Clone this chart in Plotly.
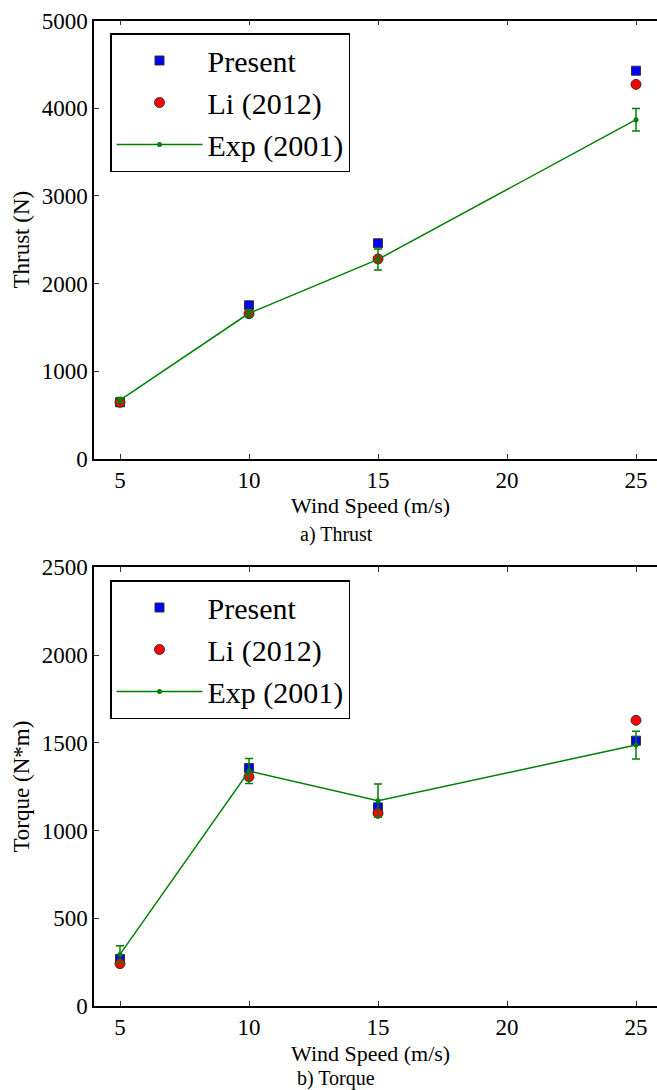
import plotly.graph_objects as go
from plotly.subplots import make_subplots

wind = [5, 10, 15, 25]

thrust_present = [644, 1751, 2459, 4429]
thrust_li = [644, 1655, 2280, 4273]
thrust_exp = [670, 1660, 2275, 3870]
thrust_exp_err = [30, 40, 120, 128]

torque_present = [268, 1356, 1132, 1512]
torque_li = [241, 1307, 1098, 1628]
torque_exp = [294, 1339, 1170, 1487]
torque_exp_err = [50, 71, 95, 79]

x_ticks = [5, 10, 15, 20, 25]
thrust_ticks = [0, 1000, 2000, 3000, 4000, 5000]
torque_ticks = [0, 500, 1000, 1500, 2000, 2500]

W, H = 657, 1090
FONT = "Liberation Serif"
BLUE, RED, GREEN = "#0000ff", "#ff0000", "#008000"

fig = make_subplots(rows=2, cols=1)

def add_series(row, present, li, exp, err, legend):
    fig.add_trace(go.Scatter(x=wind, y=present, mode="markers", name="Present",
                             marker=dict(symbol="square", size=9, color=BLUE,
                                         line=dict(color="#333333", width=1)),
                             legend=legend), row=row, col=1)
    fig.add_trace(go.Scatter(x=wind, y=li, mode="markers", name="Li (2012)",
                             marker=dict(symbol="circle", size=10, color=RED,
                                         line=dict(color="#333333", width=1)),
                             legend=legend), row=row, col=1)
    fig.add_trace(go.Scatter(x=wind, y=exp, mode="lines+markers", name="Exp (2001)",
                             line=dict(color=GREEN, width=1.5),
                             marker=dict(symbol="circle", size=5, color=GREEN),
                             error_y=dict(type="data", array=err, color=GREEN,
                                          thickness=1.5, width=4),
                             legend=legend), row=row, col=1)

add_series(1, thrust_present, thrust_li, thrust_exp, thrust_exp_err, "legend")
add_series(2, torque_present, torque_li, torque_exp, torque_exp_err, "legend2")

x_left = 94.2 / W
top1 = (H - 20.7) / H
bot1 = (H - 458.7) / H
top2 = (H - 567.3) / H
bot2 = (H - 1006) / H

axis_common = dict(showgrid=False, zeroline=False, showline=True, linecolor="black",
                   linewidth=1.5, ticks="inside", ticklen=5, tickcolor="#333333",
                   tickwidth=1, automargin=False,
                   tickfont=dict(family=FONT, size=23, color="black"))

TITLE_FONT = dict(family=FONT, size=23, color="black")
xr = [4, 4 + (W - 94.2) / 25.8]
for i, (bot, top) in enumerate([(bot1, top1), (bot2, top2)], start=1):
    fig.update_xaxes(range=xr, domain=[x_left, 1], tickvals=x_ticks, mirror="ticks",
                     row=i, col=1, **axis_common)
    fig.update_yaxes(domain=[bot, top], row=i, col=1, **axis_common)

fig.update_yaxes(range=[0, 5000], tickvals=thrust_ticks,
                 title=dict(text="Thrust (N)", font=TITLE_FONT, standoff=6),
                 row=1, col=1)
fig.update_yaxes(range=[0, 2500], tickvals=torque_ticks,
                 title=dict(text="Torque (N*m)", font=TITLE_FONT, standoff=6),
                 row=2, col=1)

def ann(text, xpx, ypx, size):
    return dict(text=text, x=xpx / W, y=1 - ypx / H, xref="paper", yref="paper",
                xanchor="center", yanchor="middle", showarrow=False,
                font=dict(family=FONT, size=size, color="black"))

legend_common = dict(bgcolor="white", bordercolor="black", borderwidth=1.5,
                     font=dict(family=FONT, size=30, color="black"),
                     xanchor="left", yanchor="top", itemwidth=86)
fig.update_layout(
    width=W, height=H, margin=dict(l=0, r=0, t=0, b=0),
    plot_bgcolor="white", paper_bgcolor="white",
    legend=dict(x=110 / W, y=1 - 33 / H, **legend_common),
    legend2=dict(x=110 / W, y=1 - 580 / H, **legend_common),
    annotations=[
        ann("Wind Speed (m/s)", 370, 506, 22),
        ann("Wind Speed (m/s)", 370, 1053, 22),
        ann("a) Thrust", 336, 534, 20),
        ann("b) Torque", 336, 1078, 20),
    ],
)

fig.write_html("out.html")
